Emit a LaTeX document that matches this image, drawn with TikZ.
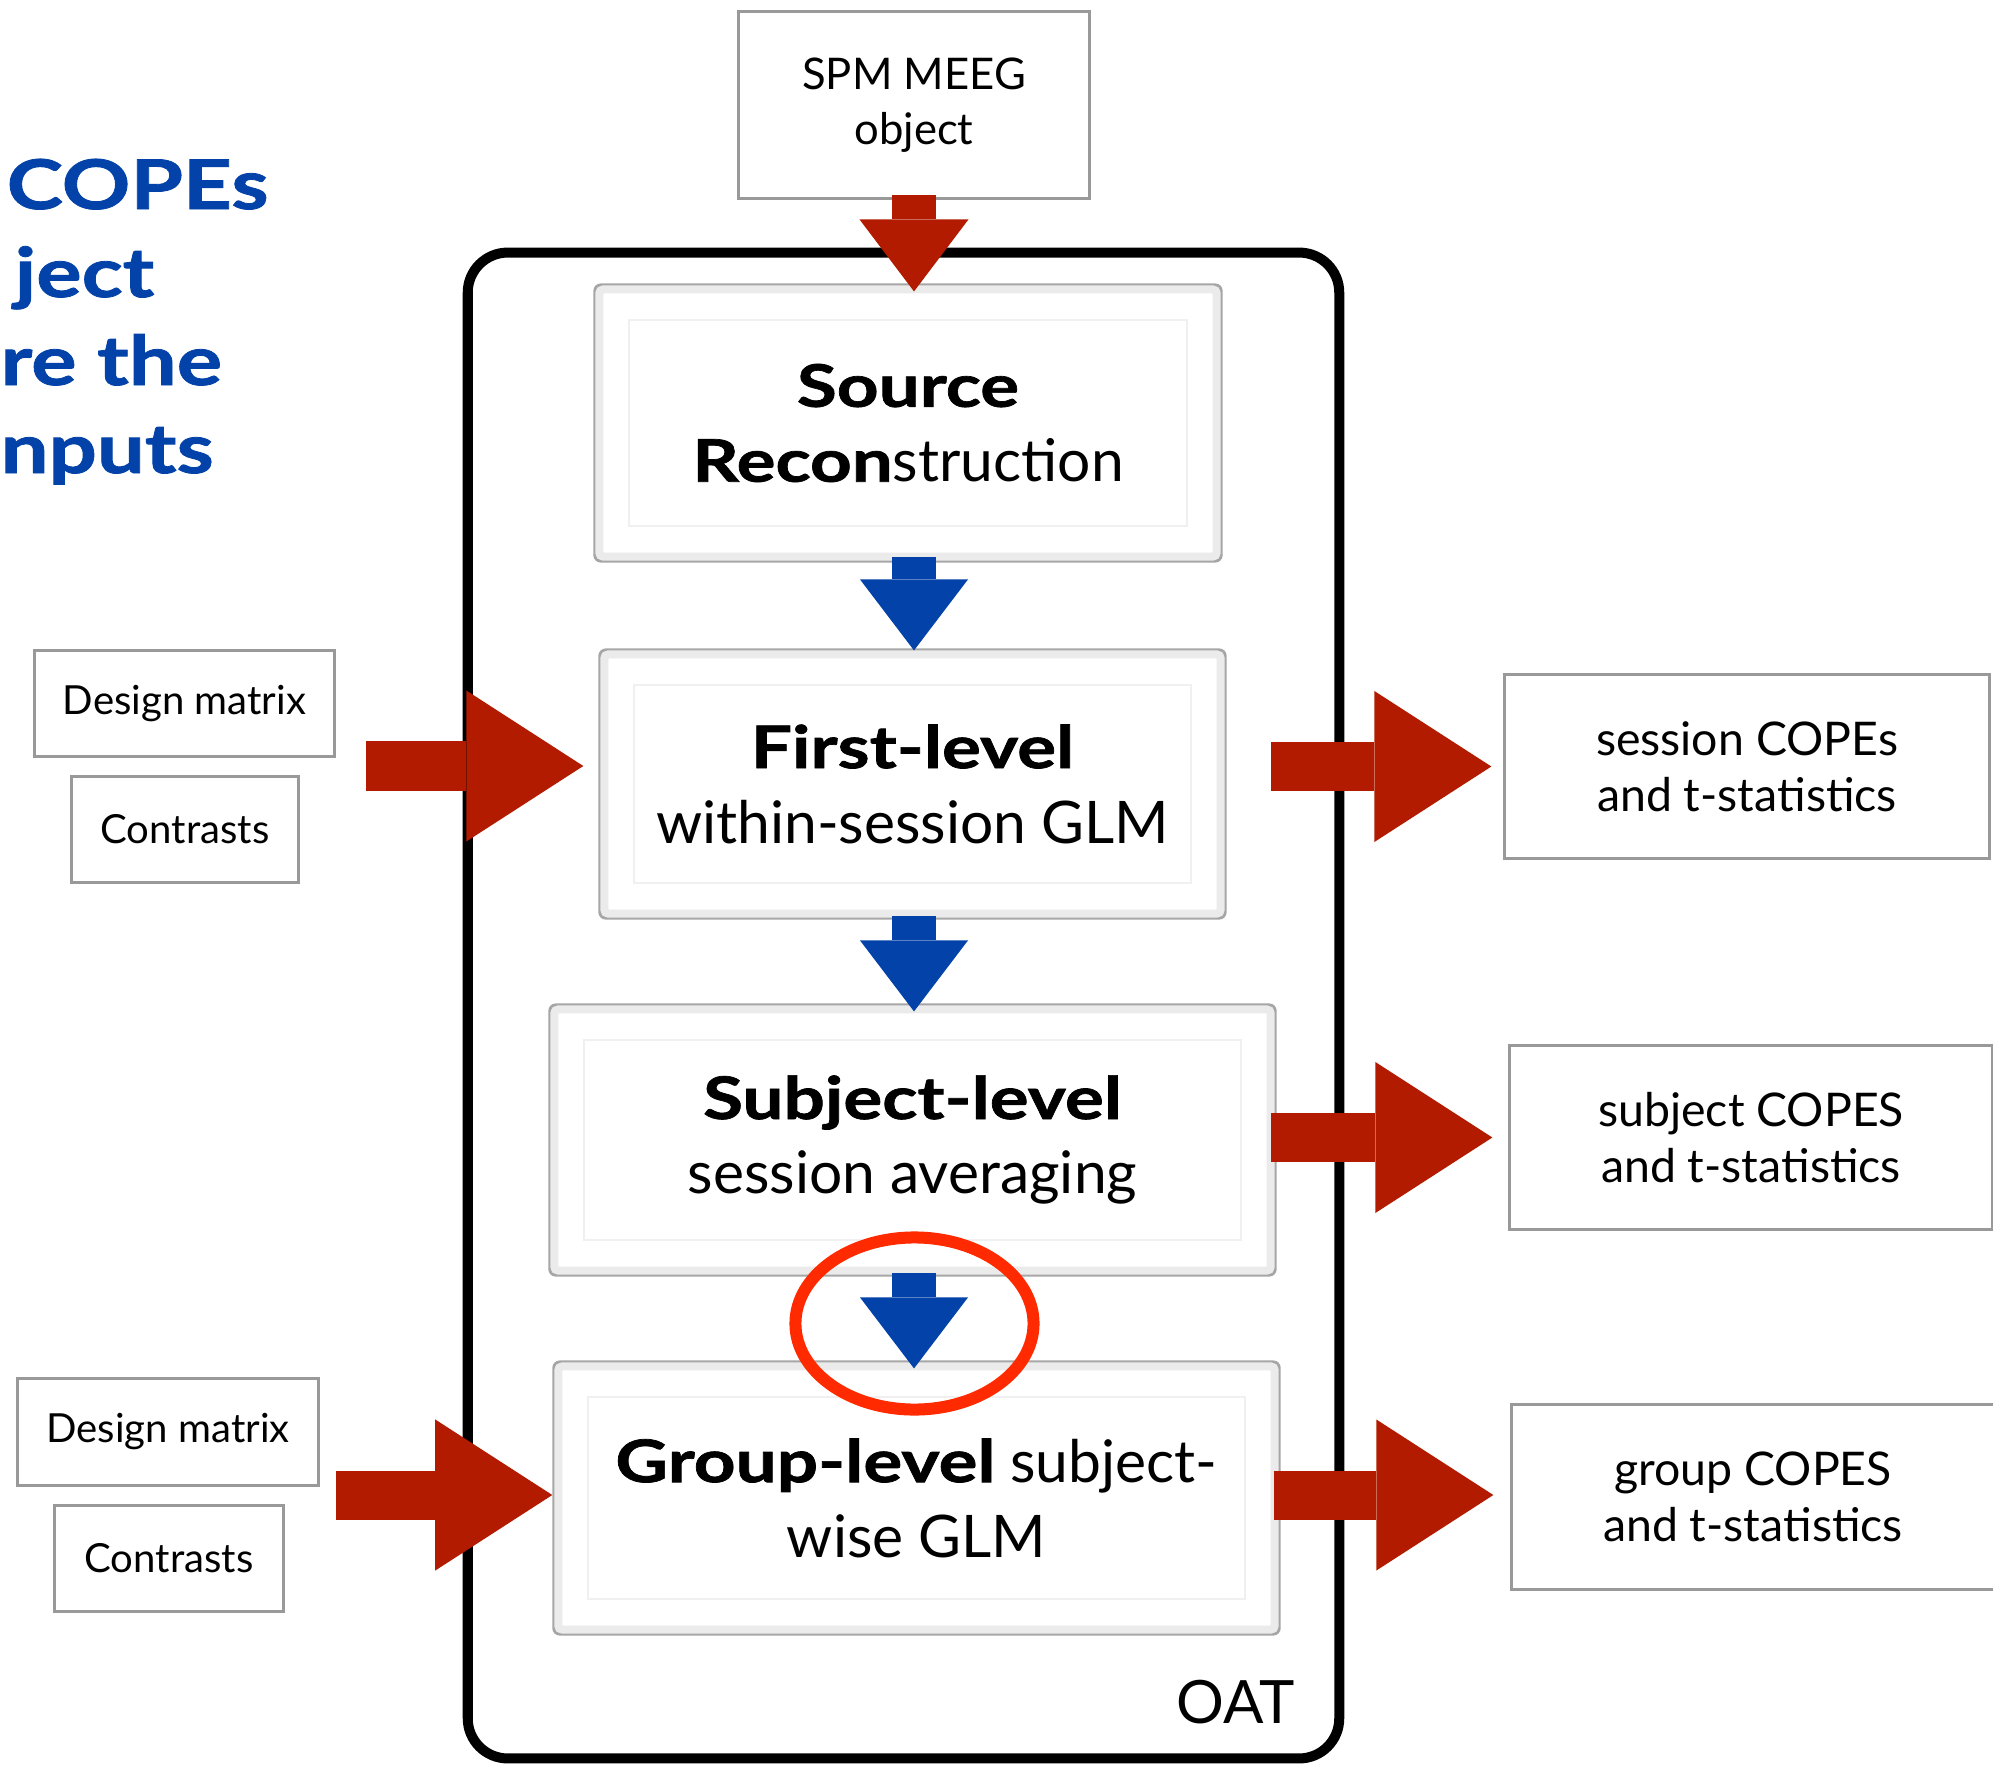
\documentclass[tikz,border=0pt]{standalone}
\usepackage{fontspec}
\setmainfont{Lato}
\newfontfamily\widebold{Lato}[FakeStretch=1.24, FakeBold=1.2]
\usetikzlibrary{arrows.meta,calc}
\definecolor{arrowred}{RGB}{178,27,0}
\definecolor{arrowblue}{RGB}{3,66,168}
\definecolor{ringred}{RGB}{255,42,0}
\newcommand{\hv}[1]{{\widebold\bfseries #1}}
\tikzset{
  stage/.style     ={draw=black!35, line width=0.03cm, rounded corners=0.06cm, fill=white, inner sep=0pt, align=center, font=\fontsize{16.7}{21.3}\selectfont},
  innerframe/.style={draw=black!6, line width=0.02cm},
  bevel/.style     ={draw=black!8, line width=0.08cm, rounded corners=0.04cm},
  iobox/.style     ={draw=black!40, line width=0.03cm, fill=white, inner sep=0pt, align=center},
  oatbox/.style    ={draw, line width=0.1cm, rounded corners=0.4cm},
  redfat/.style    ={arrowred, line width=0.49cm, -{Triangle[length=1.17cm, width=1.51cm, line width=0pt]}},
  reddown/.style   ={arrowred, line width=0.43cm, -{Triangle[length=0.72cm, width=1.09cm, line width=0pt]}},
  bluedown/.style  ={arrowblue, line width=0.44cm, -{Triangle[length=0.71cm, width=1.08cm, line width=0pt]}},
  hilite/.style    ={draw=ringred, line width=0.12cm},
  heading/.style   ={anchor=base west, inner sep=0pt, text=arrowblue, font=\fontsize{19.5}{25}\selectfont\widebold\bfseries}
}

\begin{document}
\begin{tikzpicture}[x=0.01cm, y=-0.01cm]
\useasboundingbox (0,0) rectangle (1993,1766);
% heading on the left, cut by the page edge
\node[heading] (h1) at (6,209) {COPEs};
\node[heading] (h2) at (14,297) {ject};
\node[heading] (h3) at (0,385) {re the};
\node[heading] (h4) at (0,473) {nputs};

% OAT container
\node[oatbox, minimum width=8.71cm, minimum height=15.05cm] (oat) at (903.5,1005.5) {};
\node[anchor=base east, inner sep=0pt, font=\fontsize{17}{20}\selectfont] (oatlbl) at ($(oat.south east)+(-49,-40)$) {OAT};

% pipeline stages
\node[stage, minimum width=6.26cm, minimum height=2.76cm] (src) at (908,423) {\hv{Source}\\\hv{Recon}struction};
\node[stage, minimum width=6.25cm, minimum height=2.68cm] (first) at (912.5,784) {\hv{First-level}\\within-session GLM};
\node[stage, minimum width=7.25cm, minimum height=2.70cm] (subj) at (912.5,1140) {\hv{Subject-level}\\session averaging};
\node[stage, minimum width=7.25cm, minimum height=2.72cm] (group) at (916.5,1498) {\hv{Group-level} subject-\\wise GLM};
\foreach \n in {src,first,subj,group} {
  \draw[bevel] ($(\n.north west)+(6,6)$) rectangle ($(\n.south east)+(-6,-6)$);
  \draw[innerframe] ($(\n.north west)+(36,37)$) rectangle ($(\n.south east)+(-36,-37)$);
}

% inputs and outputs
\node[iobox, minimum width=3.50cm, minimum height=1.86cm, font=\fontsize{12.4}{15.6}\selectfont] (spm) at (914,105) {SPM MEEG\\object};
\node[iobox, minimum width=2.99cm, minimum height=1.05cm, font=\fontsize{11.4}{14}\selectfont] (dm1) at (184.5,703.5) {Design matrix};
\node[iobox, minimum width=2.26cm, minimum height=1.05cm, font=\fontsize{11.4}{14}\selectfont] (con1) at (185,829.5) {Contrasts};
\node[iobox, minimum width=3.00cm, minimum height=1.06cm, font=\fontsize{11.4}{14}\selectfont] (dm2) at (168,1432) {Design matrix};
\node[iobox, minimum width=2.28cm, minimum height=1.05cm, font=\fontsize{11.4}{14}\selectfont] (con2) at (169,1558.5) {Contrasts};
\node[iobox, minimum width=4.84cm, minimum height=1.83cm, font=\fontsize{13.2}{16}\selectfont] (sess) at (1747,766.5) {session COPEs\\and t-statistics};
\node[iobox, minimum width=4.82cm, minimum height=1.83cm, font=\fontsize{13.2}{16}\selectfont] (subjc) at (1751,1137.5) {subject COPES\\and t-statistics};
\node[iobox, minimum width=4.82cm, minimum height=1.84cm, font=\fontsize{13.2}{16}\selectfont] (grpc) at (1753,1497) {group COPES\\and t-statistics};

% flow down the pipeline
\draw[reddown] ($(spm.south)+(0,-5)$) -- ($(src.north -| spm.south)+(0,8)$);
\draw[bluedown] ($(src.south -| spm.south)+(0,-6)$) -- ($(first.north -| spm.south)+(0,2)$);
\draw[bluedown] ($(first.south -| spm.south)+(0,-4)$) -- ($(subj.north -| spm.south)+(0,8)$);
\draw[bluedown] ($(subj.south -| spm.south)+(0,-4)$) -- ($(group.north -| spm.south)+(0,8)$);

% side arrows
\coordinate (in1) at (366,766);
\coordinate (in2) at (336,1495);
\draw[redfat] (in1) -- ($(first.west |- in1)+(-15,0)$);
\draw[redfat] (in2) -- (group.west |- in2);
\draw[redfat] ($(sess.west)+(-232,0)$) -- ($(sess.west)+(-12,0)$);
\draw[redfat] ($(subjc.west)+(-237,0)$) -- ($(subjc.west)+(-16,0)$);
\draw[redfat] ($(grpc.west)+(-236,-2)$) -- ($(grpc.west)+(-17,-2)$);

\draw[hilite] ($(subj.south)!0.5!(group.north)+(0,5)$) ellipse [x radius=1.19cm, y radius=0.86cm];
\end{tikzpicture}
\end{document}
